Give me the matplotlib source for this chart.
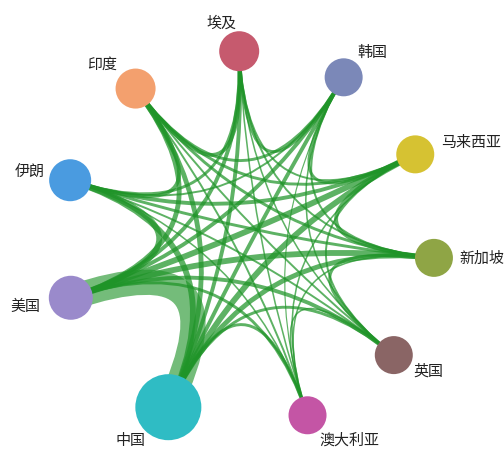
import numpy as np
import matplotlib
matplotlib.use("Agg")
import matplotlib.pyplot as plt
from matplotlib.path import Path
from matplotlib.patches import PathPatch, Circle

plt.rcParams['font.family'] = ['Noto Sans CJK SC', 'DejaVu Sans']

# ---- data ----
countries = ["埃及", "韩国", "马来西亚", "新加坡", "英国", "澳大利亚", "中国", "美国", "伊朗", "印度"]
node_size = [20, 19, 19, 19, 19, 19, 33, 22, 21, 20]          # node radius (px)
node_colors = ["#c65a6e", "#7b88b8", "#d6c232", "#8fa545", "#8a6565",
               "#c455a5", "#2fbcc4", "#9a8acb", "#4a9be0", "#f3a06e"]

# edges: (source, target, weight)
edges = [
    ("中国", "美国", 13), ("中国", "伊朗", 3), ("中国", "印度", 2.5), ("中国", "埃及", 2),
    ("中国", "韩国", 2), ("中国", "马来西亚", 3), ("中国", "新加坡", 2.5), ("中国", "英国", 1.5),
    ("中国", "澳大利亚", 1.5),
    ("美国", "伊朗", 3), ("美国", "印度", 2.5), ("美国", "埃及", 2), ("美国", "韩国", 2),
    ("美国", "马来西亚", 3), ("美国", "新加坡", 3), ("美国", "英国", 2), ("美国", "澳大利亚", 1.5),
    ("伊朗", "印度", 2), ("伊朗", "埃及", 1.5), ("伊朗", "韩国", 1), ("伊朗", "马来西亚", 2),
    ("伊朗", "新加坡", 1.5), ("伊朗", "英国", 1), ("伊朗", "澳大利亚", 0.8),
    ("印度", "埃及", 2), ("印度", "韩国", 1.5), ("印度", "马来西亚", 1.5), ("印度", "新加坡", 1.5),
    ("印度", "英国", 1), ("印度", "澳大利亚", 1),
    ("埃及", "韩国", 1.5), ("埃及", "马来西亚", 1), ("埃及", "新加坡", 1), ("埃及", "英国", 0.8),
    ("埃及", "澳大利亚", 0.8),
    ("韩国", "马来西亚", 1.5), ("韩国", "新加坡", 1), ("韩国", "英国", 0.8), ("韩国", "澳大利亚", 0.6),
    ("马来西亚", "新加坡", 2), ("马来西亚", "英国", 1), ("马来西亚", "澳大利亚", 0.8),
    ("新加坡", "英国", 1.5), ("新加坡", "澳大利亚", 0.8),
    ("英国", "澳大利亚", 0.8),
]

# ---- layout (circle, angular share proportional to node size) ----
cx, cy, R = 248, 238, 187
pad = 1.6
start_angle = 92.7
scale = 360.0 / (np.sum(node_size) + pad * len(node_size))
angles = [start_angle]
for i in range(1, len(countries)):
    gap = ((node_size[i - 1] + node_size[i]) / 2 + pad) * scale
    angles.append(angles[-1] - gap)
pos = {}
for name, a in zip(countries, angles):
    t = np.deg2rad(a)
    pos[name] = (cx + R * np.cos(t), cy - R * np.sin(t))

# label offsets from node centre (px) and alignment
label_style = {
    "埃及": (-18, -28, "center"), "韩国": (14, -24, "left"), "马来西亚": (26, -11, "left"),
    "新加坡": (25, 1, "left"), "英国": (20, 16, "left"), "澳大利亚": (12, 25, "left"),
    "中国": (-38, 34, "center"), "美国": (-30, 9, "right"), "伊朗": (-25, -8, "right"),
    "印度": (-33, -24, "center"),
}

fig = plt.figure(figsize=(5.04, 4.5), dpi=100)
ax = fig.add_axes([0, 0, 1, 1])
ax.set_xlim(0, 504)
ax.set_ylim(450, 0)
ax.set_aspect('equal')
ax.axis('off')

# edges, thickest first
for s, t, w in sorted(edges, key=lambda e: -e[2]):
    p0, p2 = pos[s], pos[t]
    path = Path([p0, (cx, cy), p2], [Path.MOVETO, Path.CURVE3, Path.CURVE3])
    ax.add_patch(PathPatch(path, facecolor='none', edgecolor='#1f9428',
                           lw=w * 1.4, alpha=0.62 if w > 5 else 0.72,
                           capstyle='butt', zorder=1))

for name, r, c in zip(countries, node_size, node_colors):
    x, y = pos[name]
    ax.add_patch(Circle((x, y), r, facecolor=c, edgecolor='none', alpha=1.0, zorder=3))
    dx, dy, ha = label_style[name]
    ax.text(x + dx, y + dy, name, ha=ha, va='center', fontsize=10.8,
            color='#222222', zorder=4)

fig.savefig("out.png", dpi=100, facecolor='white')
